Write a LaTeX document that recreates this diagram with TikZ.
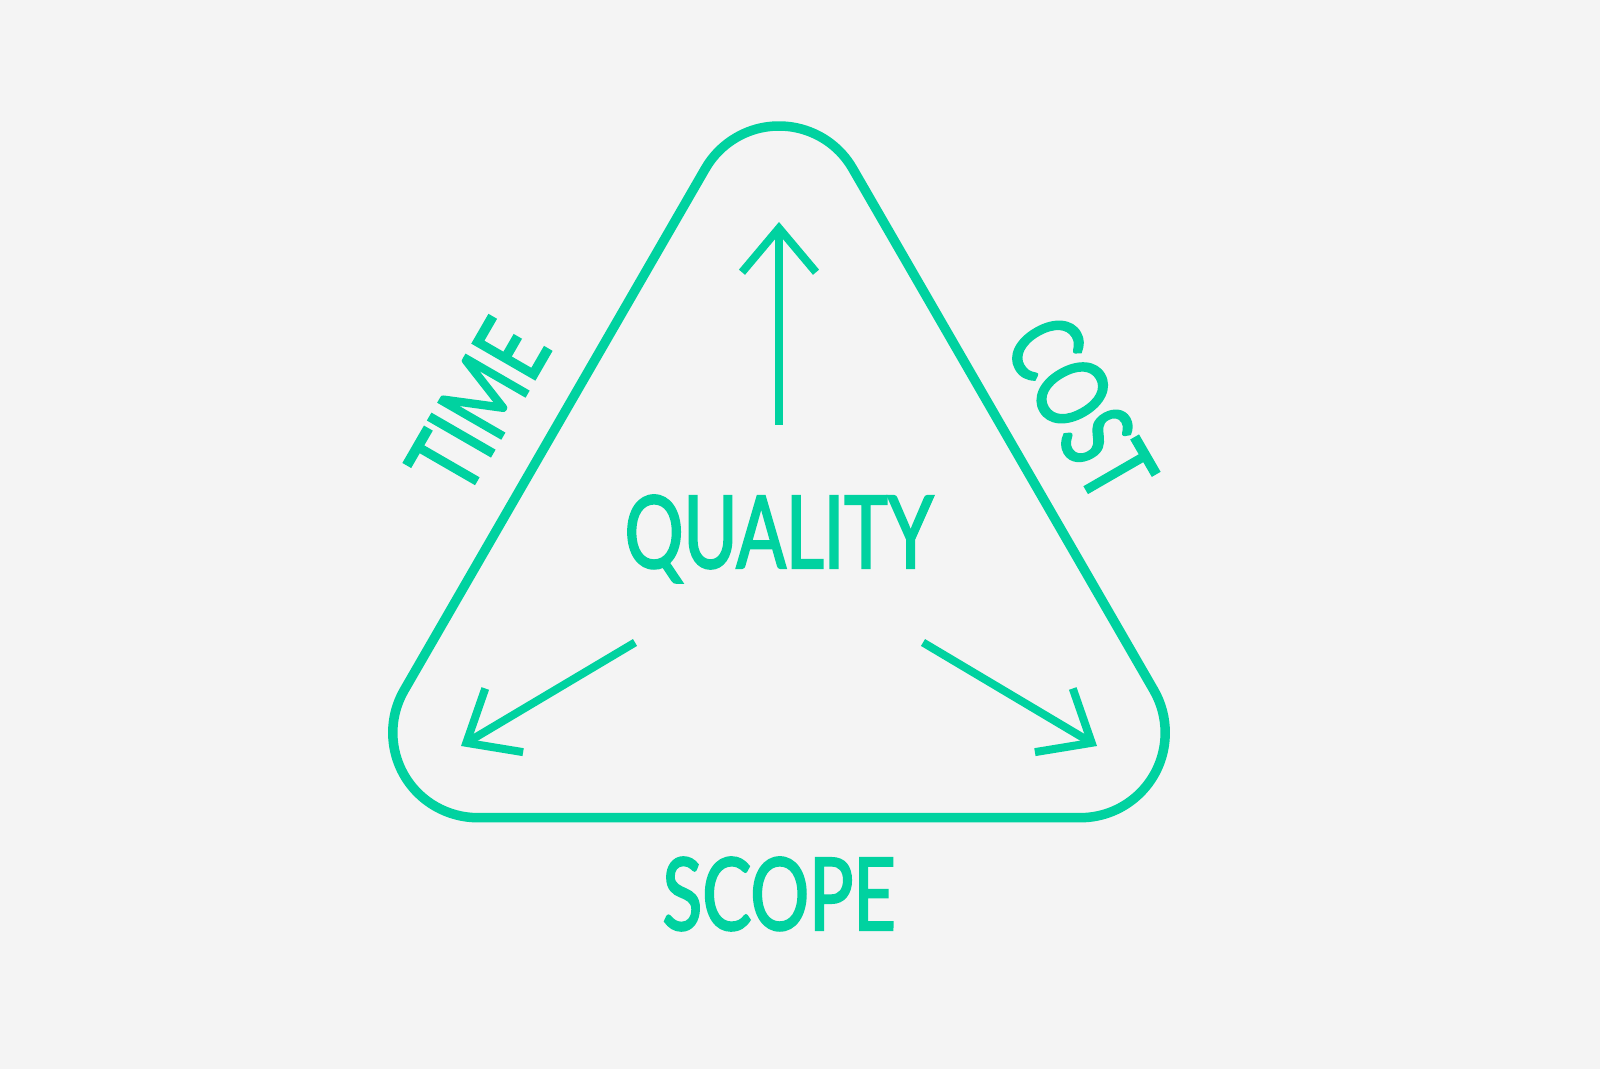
\documentclass[tikz,border=0pt]{standalone}
\usepackage{fontspec}
\usetikzlibrary{arrows.meta}
\newfontfamily\trianglefont[FakeStretch=0.73, FakeBold=2]{Lato}
\definecolor{qgreen}{RGB}{0,210,160}
\definecolor{paper}{RGB}{244,244,244}

\begin{document}
\begin{tikzpicture}[x=0.01cm, y=0.01cm,
        word/.style={text=qgreen, inner sep=0pt, font=\trianglefont\fontsize{28.6pt}{30pt}\selectfont},
        push/.style={draw=qgreen, line width=0.08cm,
                -{Straight Barb[length=0.44cm, width=0.74cm, line join=miter, line cap=butt]}}]
        \fill[paper] (0,0) rectangle (1600,1069);
        % rounded triangle
        \draw[qgreen, line width=0.095cm] (477.8,251.3) -- ++(602.4,0)
                arc[start angle=-90, end angle=30, radius=85] -- ++(120:602.4)
                arc[start angle=30, end angle=150, radius=85] -- ++(240:602.4)
                arc[start angle=150, end angle=270, radius=85] -- cycle;
        \node[word, anchor=base] (quality) at (779,501) {QUALITY};
        \node[word, anchor=base] (scope) at (779,139) {SCOPE};
        \node[word, rotate=60] (time) at (478,663) {TIME};
        \node[word, rotate=-60] (cost) at (1081,661) {COST};
        % arrows out of the middle
        \coordinate (up0) at (779,644);
        \coordinate (up1) at (779,847);
        \coordinate (left0) at (635,426.5);
        \coordinate (left1) at (461,323);
        \coordinate (right0) at (923,426.5);
        \coordinate (right1) at (1097,323);
        \draw[push] (up0) -- (up1);
        \draw[push] (left0) -- (left1);
        \draw[push] (right0) -- (right1);
\end{tikzpicture}
\end{document}
